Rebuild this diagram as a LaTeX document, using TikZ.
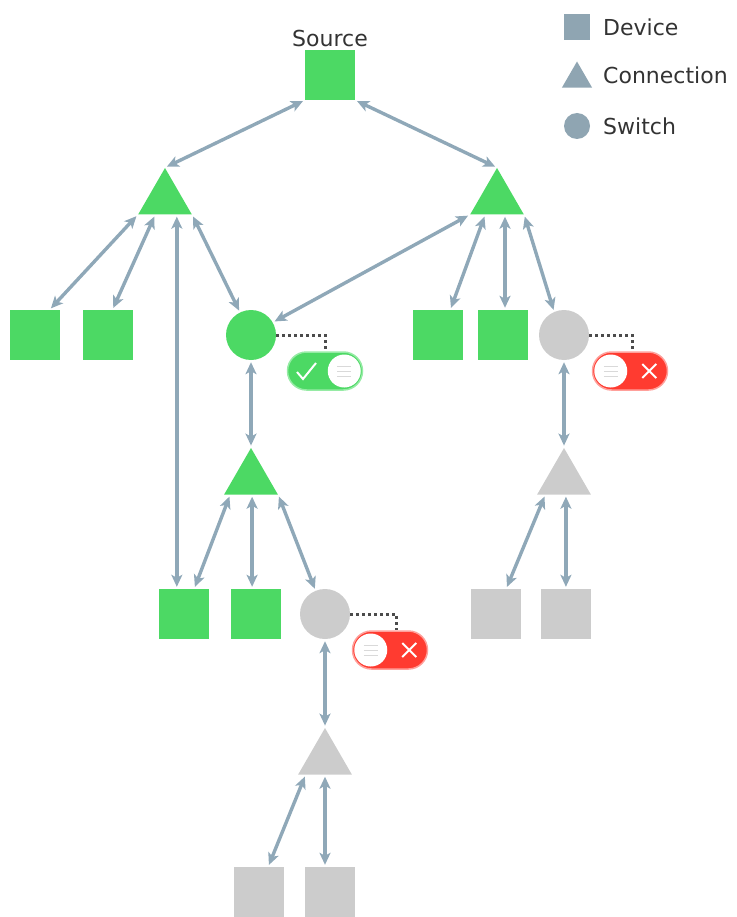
\documentclass[tikz,border=0pt]{standalone}
\usepackage{fontspec}
\setmainfont{DejaVu Sans}
\usetikzlibrary{shapes.geometric,arrows.meta}
\definecolor{ongreen}{RGB}{76,217,100}
\definecolor{onrim}{RGB}{150,235,165}
\definecolor{offgray}{RGB}{204,204,204}
\definecolor{offred}{RGB}{255,59,48}
\definecolor{offrim}{RGB}{255,160,155}
\definecolor{linkblue}{RGB}{143,168,184}
\definecolor{legendblue}{RGB}{143,165,178}
\definecolor{txt}{RGB}{51,51,51}
\begin{document}
\begin{tikzpicture}[x=1pt,y=-1pt,font=\fontsize{22}{26}\selectfont,text=txt,
	dev/.style={rectangle,minimum size=50pt,inner sep=0pt},
	conn/.style={regular polygon,regular polygon sides=3,minimum size=62pt,inner sep=0pt},
	sw/.style={circle,minimum size=50pt,inner sep=0pt},
	link/.style={draw=linkblue,line width=3.4pt,{Stealth[length=12pt,width=11pt,inset=3pt]}-{Stealth[length=12pt,width=11pt,inset=3pt]},shorten <=2pt,shorten >=2pt},
	wire/.style={draw=black!70,line width=3pt,dash pattern=on 3pt off 3pt},
	tog/.style={rectangle,rounded corners=19pt,minimum width=75pt,minimum height=38pt,inner sep=0pt,line width=1.5pt}]
	\useasboundingbox (0,0) rectangle (736,917);
	% legend
	\node[dev,minimum size=26pt,fill=legendblue] (kdev) at (577,27) {};
	\node[conn,minimum size=35pt,fill=legendblue] (kconn) at (577,79) {};
	\node[sw,minimum size=26pt,fill=legendblue] (ksw) at (577,126) {};
	\node[anchor=west,inner sep=0pt] (tdev) at (603,27) {Device};
	\node[anchor=west,inner sep=0pt] (tconn) at (603,75) {Connection};
	\node[anchor=west,inner sep=0pt] (tsw) at (603,126) {Switch};
	% network
	\node[dev,fill=ongreen,label={[inner sep=3pt]above:Source}] (src) at (330,75) {};
	\node[conn,fill=ongreen] (tl) at (165,199) {};
	\node[conn,fill=ongreen] (tr) at (497,199) {};
	\node[conn,fill=ongreen] (tm) at (251,479) {};
	\node[conn,fill=offgray] (tg) at (564,479) {};
	\node[conn,fill=offgray] (tb) at (325,759) {};
	\node[sw,fill=ongreen] (s1) at (251,335) {};
	\node[sw,fill=offgray] (s2) at (564,335) {};
	\node[sw,fill=offgray] (s3) at (325,614) {};
	\foreach \n/\p/\c in {d1/{35,335}/ongreen,d2/{108,335}/ongreen,d3/{438,335}/ongreen,d4/{503,335}/ongreen,
		d5/{184,614}/ongreen,d6/{256,614}/ongreen,d7/{496,614}/offgray,d8/{566,614}/offgray,
		d9/{259,892}/offgray,d10/{330,892}/offgray}{
		\node[dev,fill=\c] (\n) at (\p) {};
	}
	% connectors
	\foreach \a/\b in {src.south west/tl.corner 1,src.south east/tr.corner 1,
		tl.corner 2/d1.60,tl.238/d2.80,tl.corner 3/s1.116,
		tr.corner 2/s1.30,tr.233/d3.64,tr.corner 3/s2.113,
		s1.south/tm.corner 1,tm.217/d5.68,tm.corner 3/s3.112,
		s2.south/tg.corner 1,tg.220/d7.68,
		s3.south/tb.corner 1,tb.219/d9.70}{
		\draw[link] (\a) -- (\b);
	}
	\draw[link] (tl.-53) -- (tl.-53 |- d5.north);
	\draw[link] (tr.-63) -- (tr.-63 |- d4.north);
	\draw[link] (tm.-86) -- (tm.-86 |- d6.north);
	\draw[link] (tg.-83) -- (tg.-83 |- d8.north);
	\draw[link] (tb.-90) -- (tb.-90 |- d10.north);
	% toggles
	\node[tog,fill=ongreen,draw=onrim] (t1) at (325,371) {};
	\node[tog,fill=offred,draw=offrim] (t2) at (630,371) {};
	\node[tog,fill=offred,draw=offrim] (t3) at (390,650) {};
	\draw[wire] (s1.east) -| (t1.north);
	\draw[wire] (s2.east) -| ([xshift=2pt]t2.north);
	\draw[wire] (s3.east) -| ([xshift=6pt]t3.north);
	\draw[white,line width=2pt,shift={(t1.center)}] (-28,1) -- (-22,8) -- (-9,-8);
	\foreach \t/\s in {t1/-19,t2/19,t3/19}{
		\fill[white] ([xshift=\s pt]\t.\ifnum\s<0 east\else west\fi) circle (16.5pt);
		\draw[black!15,line width=1pt,shift={([xshift=\s pt]\t.\ifnum\s<0 east\else west\fi)}]
			(-7,-5) -- (7,-5) (-7,0) -- (7,0) (-7,5) -- (7,5);
	}
	\foreach \t in {t2,t3}{
		\draw[white,line width=2pt,shift={([xshift=-19pt]\t.east)}] (-7,-7) -- (7,7) (-7,7) -- (7,-7);
	}
\end{tikzpicture}
\end{document}
